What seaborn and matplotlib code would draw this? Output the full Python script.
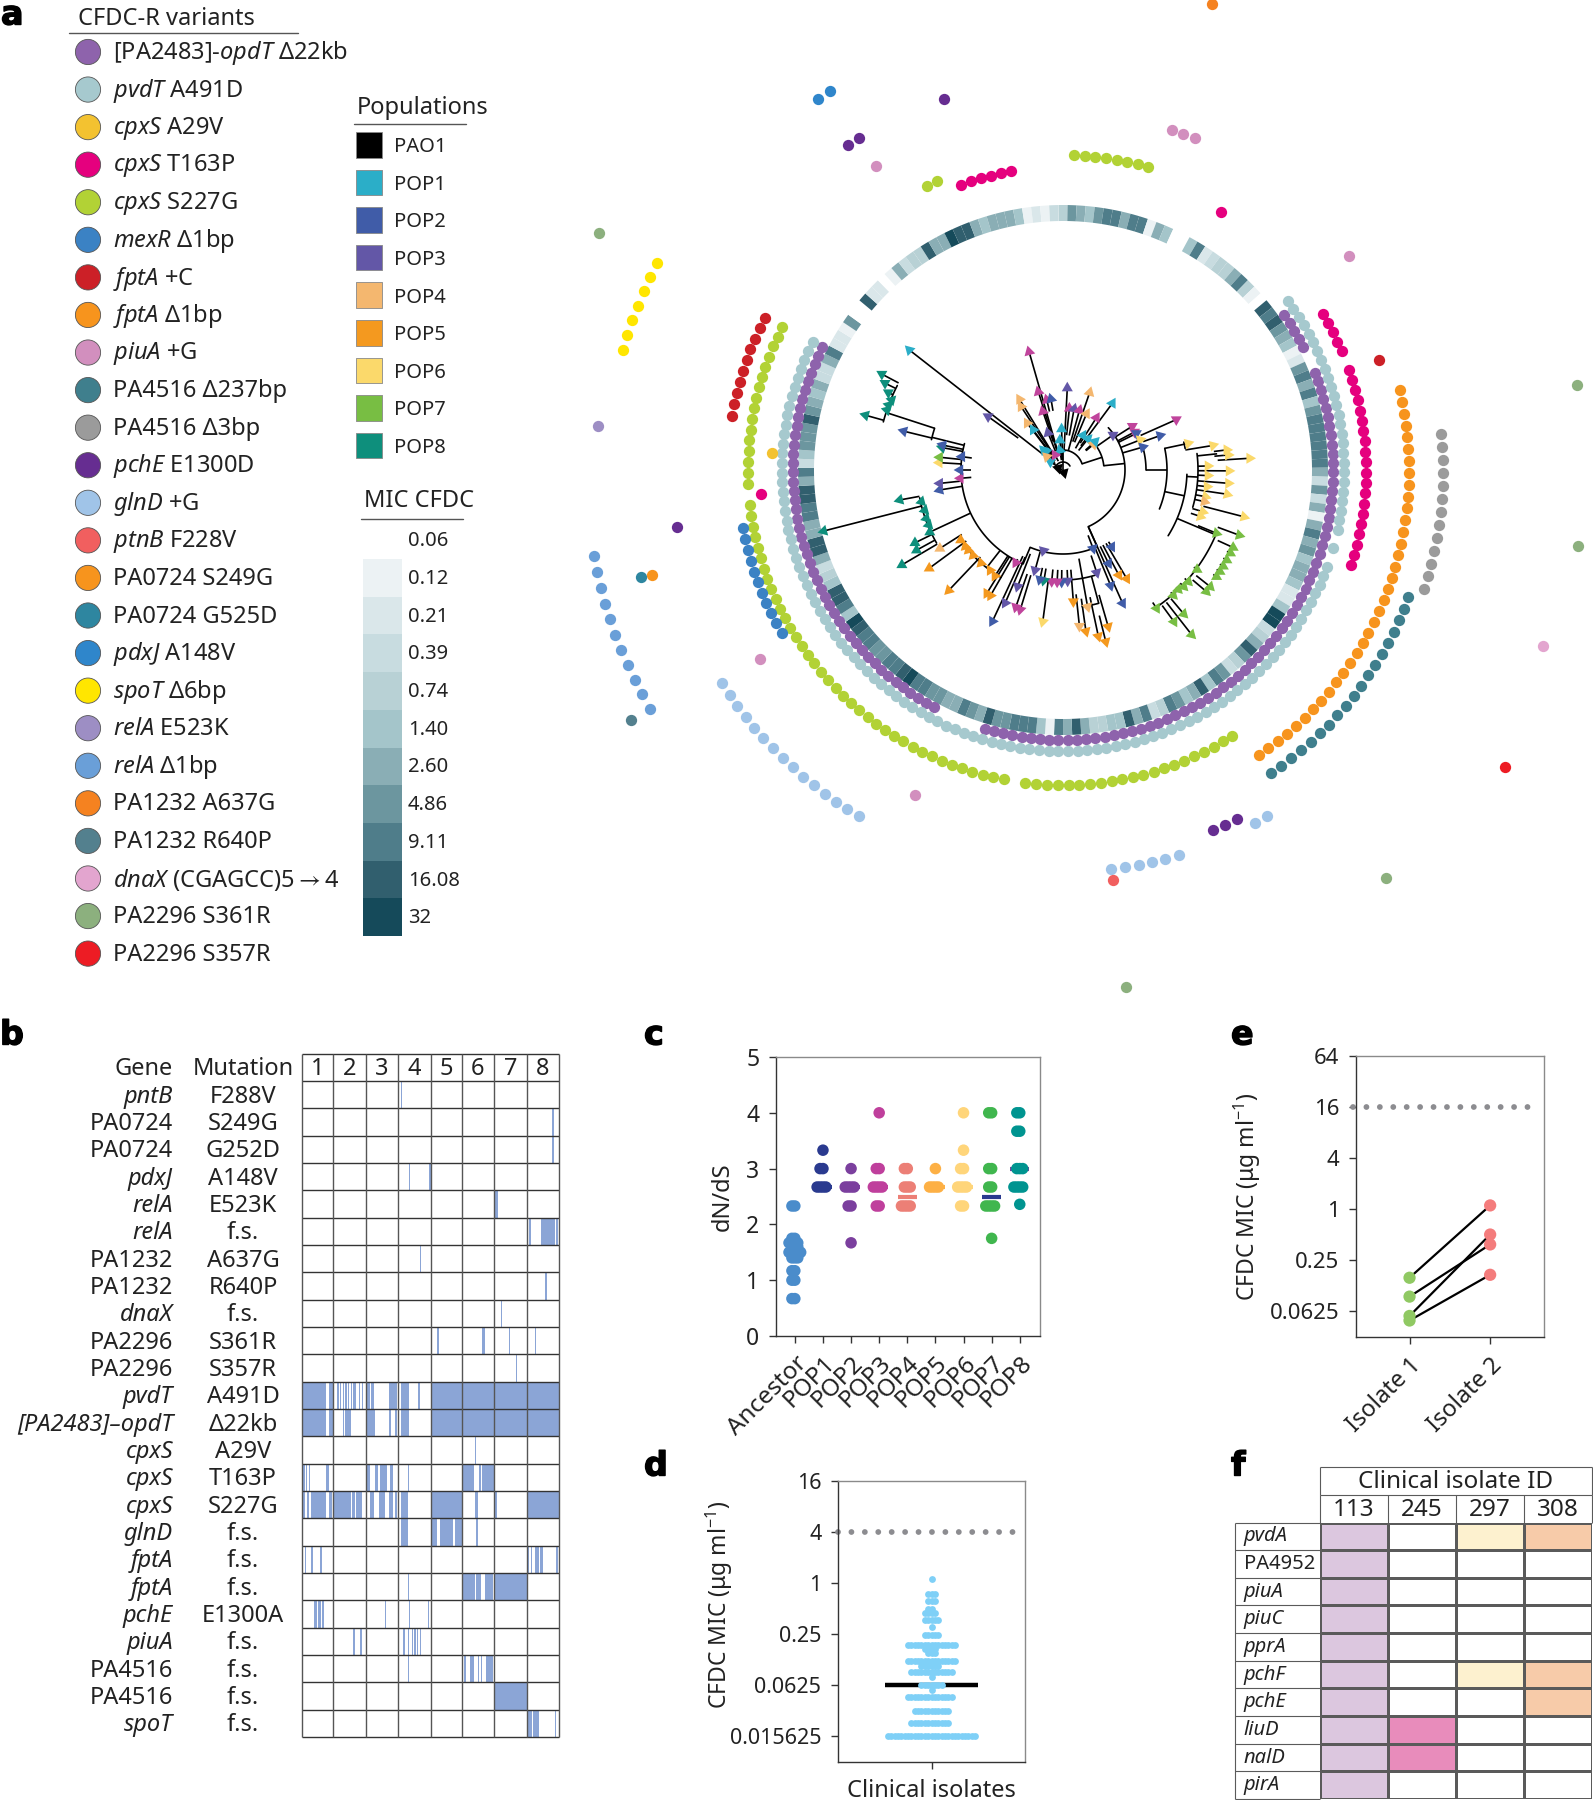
"""Resistance variants: circular phylogeny with rings, mutation table, dN/dS and MIC panels."""
import matplotlib
matplotlib.use("Agg")
import matplotlib.patheffects as pe
import matplotlib.pyplot as plt
import numpy as np
import pandas as pd
import seaborn as sns
from matplotlib.colors import ListedColormap
from matplotlib.lines import Line2D

# ── Data: panel a ─────────────────────────────────────────────────────────────
VARIANT_LABELS = [
    r"[PA2483]-$\mathit{opdT}$ Δ22kb", r"$\mathit{pvdT}$ A491D", r"$\mathit{cpxS}$ A29V",
    r"$\mathit{cpxS}$ T163P", r"$\mathit{cpxS}$ S227G", r"$\mathit{mexR}$ Δ1bp",
    r"$\mathit{fptA}$ +C", r"$\mathit{fptA}$ Δ1bp", r"$\mathit{piuA}$ +G",
    "PA4516 Δ237bp", "PA4516 Δ3bp", r"$\mathit{pchE}$ E1300D", r"$\mathit{glnD}$ +G",
    r"$\mathit{ptnB}$ F228V", "PA0724 S249G", "PA0724 G525D", r"$\mathit{pdxJ}$ A148V",
    r"$\mathit{spoT}$ Δ6bp", r"$\mathit{relA}$ E523K", r"$\mathit{relA}$ Δ1bp",
    "PA1232 A637G", "PA1232 R640P", r"$\mathit{dnaX}$ (CGAGCC)5$\rightarrow$4", "PA2296 S361R", "PA2296 S357R",
]
VARIANT_COLORS = [
    "#8E63AC", "#A6C9CE", "#F3C230", "#E5007E", "#B2D235", "#3B82C4", "#CC2027", "#F7941D",
    "#D28FBE", "#3F7F8D", "#9B9B9B", "#662D91", "#A0C4E8", "#F15F5F", "#F7941D", "#2E86A0",
    "#2F86CB", "#FFE600", "#9D8EC4", "#6A9FD8", "#F58220", "#53808E", "#E3A5CF", "#8CB07E", "#ED1C24",
]
# tree tip index carrying each variant, in legend order
VARIANT_TIPS = [
    [28, 29, 30, 31, 32, 35, 36, 37, 38, 39, 40, 41, 42, 43, 44, 45, 46, 47, 48, 49, 50, 51, 52, 53, 54,
     55, 56, 57, 58, 59, 60, 61, 62, 63, 64, 65, 66, 67, 68, 69, 70, 71, 72, 73, 74, 75, 76, 77, 78, 79,
     80, 81, 82, 83, 84, 85, 86, 87, 88, 89, 90, 91, 92, 93, 94, 95, 96, 97, 98, 99, 100,
     106, 107, 108, 109, 110, 111, 112, 113, 114, 115, 116, 117, 118, 119, 120, 121, 122, 123, 124, 125,
     126, 127, 128, 129, 130, 131, 132, 133, 134, 135, 136, 137, 138, 139, 140, 141, 142, 143, 144, 145,
     146, 147, 148, 149, 150, 151],
    [27, 28, 29, 30, 31, 32, 33, 34, 35, 36, 37, 38, 39, 40, 41, 42, 43, 44, 45, 46, 47, 48, 49, 50, 51,
     52, 54, 56, 57, 58, 59, 60, 61, 62, 63, 64, 65, 66, 67, 68, 69, 70, 71, 72, 73, 74, 75, 76, 77, 78,
     79, 80, 81, 82, 83, 84, 85, 86, 87, 88, 89, 90, 91, 92, 93, 94, 95, 96, 97, 98, 99, 100, 101, 102,
     103, 104, 105, 106, 107, 108, 109, 110, 111, 112, 113, 114, 115, 116, 117, 118, 119, 120, 121, 122,
     123, 124, 125, 126, 127, 128, 129, 130, 131, 132, 133, 134, 135, 136, 137, 138, 139, 140, 141, 142,
     143, 144, 145, 146, 147, 148, 149, 150, 151],
    [139],
    [16, 30, 31, 32, 33, 34, 36, 37, 38, 39, 40, 41, 42, 43, 44, 45, 46, 47, 48, 49, 50, 51, 52, 53, 54,
     55, 135, 173, 174, 175, 176, 177, 178],
    [1, 2, 3, 4, 5, 6, 7, 8, 75, 76, 77, 78, 79, 80, 81, 82, 83, 84, 85, 86, 87, 88, 89, 90, 91, 92, 93,
     94, 95, 97, 98, 99, 100, 101, 102, 103, 104, 105, 106, 107, 108, 109, 110, 111, 112, 113, 114, 115,
     116, 117, 118, 119, 120, 121, 122, 123, 124, 125, 126, 127, 128, 129, 130, 131, 132, 133, 134,
     136, 137, 138, 139, 140, 141, 142, 143, 144, 145, 146, 147, 148, 149, 150, 151, 170, 171],
    [122, 123, 124, 125, 126, 127, 128, 129, 130, 131, 132],
    [36, 142, 143, 144, 145, 146, 147, 148, 149, 150, 151],
    [39, 40, 41, 42, 43, 44, 45, 46, 47, 48, 49, 50, 51, 52, 53, 54, 55, 56, 57, 58, 59, 60, 61, 62, 63,
     64, 65, 66, 67, 68, 69, 70, 71, 72, 73, 74],
    [9, 10, 11, 27, 104, 121, 167],
    [56, 57, 58, 59, 60, 61, 62, 63, 64, 65, 66, 67, 68, 69, 70, 71, 72, 73, 74],
    [43, 44, 45, 46, 47, 48, 49, 50, 51, 52, 53, 54, 55],
    [78, 79, 80, 133, 166, 167, 174],
    [76, 77, 83, 84, 85, 86, 87, 88, 107, 108, 109, 110, 111, 112, 113, 114, 115, 116, 117, 118, 119, 120, 121],
    [88],
    [130],
    [130],
    [166, 167],
    [145, 146, 147, 148, 149, 150, 151],
    [140],
    [122, 123, 124, 125, 126, 127, 128, 129, 130, 131, 132],
    [9],
    [122],
    [56],
    [41, 50, 72, 88, 151],
    [63],
]
MIC_LEVELS_BY_TIP = [
    4, 7, 6, 5, 7, 8, 8, 6, 8, 8, 1, 6, 5, 0, 0, 5, 8, 2, 3, 4,
    4, 6, 8, 4, 1, 0, 9, 8, 9, 7, 6, 5, 1, 2, 7, 8, 6, 8, 5, 7,
    8, 8, 8, 8, 8, 8, 6, 3, 7, 3, 6, 1, 6, 8, 6, 7, 5, 6, 6, 5,
    2, 2, 5, 10, 10, 3, 4, 6, 9, 7, 4, 3, 7, 8, 5, 9, 6, 5, 7, 8,
    4, 3, 8, 6, 9, 5, 5, 4, 4, 6, 9, 6, 8, 1, 5, 8, 8, 8, 7, 7,
    9, 6, 7, 8, 6, 6, 7, 7, 8, 8, 10, 9, 8, 8, 7, 7, 8, 8, 9, 10,
    5, 8, 9, 9, 5, 4, 3, 6, 9, 9, 6, 6, 8, 8, 9, 9, 6, 8, 3, 5,
    7, 7, 7, 9, 7, 6, 5, 6, 3, 3, 6, 8, 2, 2, 1, 7, 0, 0, 9, 2,
    2, 0, 1, 6, 3, 4, 4, 9, 6, 6, 10, 9, 9, 6, 5, 6, 6, 6, 5, 1,
    2, 1, 3,
]
MIC_LABELS = ["0.06", "0.12", "0.21", "0.39", "0.74", "1.40", "2.60", "4.86", "9.11", "16.08", "32"]
MIC_COLORS = ["#FFFFFF", "#ECF2F4", "#DAE7EA", "#C8DCE0", "#B8D1D5", "#A4C5CA", "#8AAEB5",
              "#6C969F", "#4F7D8A", "#315F6E", "#154A5A"]
POP_LABELS = ["PAO1", "POP1", "POP2", "POP3", "POP4", "POP5", "POP6", "POP7", "POP8"]
POP_COLORS = ["#000000", "#2BAEC8", "#405CA8", "#6357A7", "#F4B76F", "#F4991F", "#FBD96B", "#78BE43", "#0E8F7C"]

# tree tips: angle (deg clockwise from north), radius, parent radius, population (9 = unlisted magenta)
TIP_THETA = [
    -52, -54.5, -16, -31.6, -33.5, -37.4, -36.6, -17.5, -13, -9.6, -19, -22, -2, -6, -9, -42, -44, -57, -28, -51,
    3, 5.9, 10.3, 15.4, 22.7, 19, 36.5, 32.6, 30, 38.7, 50, 48.5,
    55, 57.7, 62, 63.5, 66, 70.5, 68.7, 74,
    78, 80.7, 83, 84.8, 86.4, 88.4, 90.3, 92.2, 94.6, 96.6, 98.4, 100.6, 102.6, 106.6, 108.7, 104.5,
    112.4, 110.3, 114.5, 116.4, 118.8, 121, 122.9, 124.8, 128.4, 130.3, 126.6, 131.7, 134, 136, 138.6, 140, 143.8, 142, 145.9,
    147.6, 159, 154, 161.8, 157.6, 155.9, 149.6, 152, 169.8, 175.5, 163.9, 166, 168, 171.9, 174,
    177.6, 180.7, 183, 185.8, 187.6, 189.8, 191.9, 195.6, 193.6, 201.3, 197, 199, 203.5, 205, 207,
    210, 211.7, 223.5, 212.7, 216, 221.4, 226.5, 229.8, 232, 235.6, 233.7, 237.5,
    239.5, 241.3, 243.8, 245, 247.8, 250.5, 253.8, 255.7, 257.4, 259.6,
    260.8, 263.8, 265.4, 270, 273.4, 275.9, 277.5, 280.5, 281.7, 283.7, 285.5, 288.8, 290.4, 292.2, 293.9, 296, 297.9,
    -70, 160,
]
TIP_R = [
    195, 92, 123, 83, 76, 59, 50, 82, 72, 72, 62, 40, 41, 30, 20, 25, 28, 15, 17, 21,
    82, 62, 62, 62, 61, 82, 83, 62, 40, 40, 40, 43,
    61, 82, 81, 82, 124, 103, 83, 83,
    128, 152, 165, 166, 187, 145, 166, 145, 166, 145, 166, 145, 145, 146, 145, 187,
    166, 188, 187, 187, 187, 187, 187, 187, 188, 188, 167, 168, 168, 166, 167, 188, 188, 209, 167,
    91, 84, 104, 108, 125, 146, 126, 119, 139, 132, 163, 177, 170, 163, 157,
    111, 112, 112, 112, 153, 112, 112, 104, 83, 125, 146, 145, 145, 167, 104,
    145, 145, 166, 126, 124, 124, 124, 124, 124, 124, 166, 146,
    187, 167, 165, 147, 145, 145, 144, 247, 145, 166,
    125, 124, 103, 103, 124, 124, 102, 123, 123, 164, 205, 186, 186, 185, 191, 198, 205,
    5, 3,
]
TIP_BASE = [
    20, 55, 15, 15, 15, 15, 15, 20, 60, 60, 30, 20, 10, 10, 10, 12, 12, 8, 10, 10,
    20, 35, 35, 20, 30, 30, 30, 32, 25, 25, 30, 30,
    41, 62, 62, 62, 85, 85, 62, 62,
    124, 124, 152, 152, 155, 135, 135, 135, 135, 135, 135, 135, 135, 135, 135, 145,
    146, 165, 170, 183, 183, 183, 183, 183, 170, 170, 163, 163, 163, 163, 163, 168, 168, 168, 160,
    85, 70, 85, 90, 85, 63, 85, 85, 90, 100, 130, 150, 130, 130, 125,
    100, 100, 100, 100, 112, 100, 100, 85, 84, 90, 110, 110, 95, 95, 100,
    102, 102, 120, 102, 122, 122, 122, 122, 122, 122, 120, 120,
    146, 146, 146, 145, 145, 145, 144, 146, 145, 146,
    102, 102, 92, 92, 102, 102, 92, 102, 102, 135, 186, 184, 184, 184, 186, 186, 186,
    1, 0,
]
TIP_POP = [
    1, 3, 9, 4, 4, 4, 1, 9, 9, 2, 9, 3, 1, 1, 1, 1, 1, 1, 9, 4,
    3, 9, 3, 9, 4, 4, 1, 9, 1, 1, 4, 1,
    3, 9, 9, 2, 9, 2, 6, 2,
    6, 6, 6, 6, 6, 6, 6, 6, 6, 6, 6, 6, 4, 6, 6, 6,
    7, 7, 7, 7, 7, 7, 7, 7, 7, 7, 7, 7, 7, 7, 7, 7, 7, 7, 7,
    2, 2, 2, 3, 2, 2, 5, 5, 4, 5, 5, 5, 5, 5, 4,
    3, 2, 9, 9, 6, 8, 2, 3, 3, 3, 9, 9, 3, 2, 9,
    5, 5, 5, 5, 5, 5, 5, 5, 5, 5, 5, 4,
    8, 8, 8, 8, 8, 8, 8, 8, 8, 8,
    2, 3, 9, 2, 6, 7, 2, 8, 2, 2, 8, 8, 8, 8, 8, 8, 8,
    0, 0,
]
# internal tree branches
ARC_R = [8, 20, 41, 62, 84, 102, 124, 124, 135, 166, 83, 104, 110, 138, 124, 146, 135, 186]
ARC_START = [-60, 3, 57, 47, 156, 203, 92, 210, 83, 112, 74, 78, 162, 165, 77, 240, 283, 285]
ARC_END = [60, 72, 84, 156, 203, 285, 122, 236, 106, 146, 90, 112, 178, 172, 80, 259, 288, 297]
STEM_THETA = [0, 72, 84, 156, 203, 245, 90, 102, 113, 93, 84, 78, 218, 284, 288, 0, 165]
STEM_FROM = [0, 20, 41, 62, 84, 102, 83, 104, 124, 124, 135, 104, 102, 102, 135, 8, 110]
STEM_TO = [8, 41, 62, 84, 102, 146, 104, 124, 166, 135, 155, 124, 124, 135, 186, 20, 138]

# ── Data: panel b ─────────────────────────────────────────────────────────────
TABLE_GENES = [
    "pntB", "PA0724", "PA0724", "pdxJ", "relA", "relA", "PA1232", "PA1232", "dnaX", "PA2296", "PA2296",
    "pvdT", "[PA2483]–opdT", "cpxS", "cpxS", "cpxS", "glnD", "fptA", "fptA", "pchE", "piuA", "PA4516",
    "PA4516", "spoT",
]
TABLE_MUTATIONS = [
    "F288V", "S249G", "G252D", "A148V", "E523K", "f.s.", "A637G", "R640P", "f.s.", "S361R", "S357R",
    "A491D", "Δ22kb", "A29V", "T163P", "S227G", "f.s.", "f.s.", "f.s.", "E1300A", "f.s.", "f.s.", "f.s.", "f.s.",
]
# runs of isolates (start, stop) that carry the mutation, one list per table row
TABLE_RUNS = [
    [(73, 74)],
    [(185, 186)],
    [(185, 186)],
    [(79, 80), (94, 95)],
    [(143, 145)],
    [(168, 169), (177, 187), (188, 189)],
    [(87, 88)],
    [(180, 181)],
    [(147, 148)],
    [(100, 101), (133, 135), (153, 154), (172, 173)],
    [(158, 159)],
    [(0, 18), (20, 23), (26, 27), (28, 29), (30, 31), (32, 33), (34, 35), (36, 37), (38, 40), (42, 43),
     (44, 45), (48, 50), (51, 53), (64, 70), (73, 79), (86, 87), (95, 190)],
    [(0, 18), (20, 23), (30, 31), (32, 36), (48, 54), (64, 66), (69, 70), (73, 79), (95, 190)],
    [(128, 129)],
    [(1, 2), (3, 4), (5, 6), (18, 20), (48, 50), (54, 56), (58, 63), (65, 67), (78, 79), (119, 127), (131, 132), (133, 142)],
    [(1, 2), (4, 5), (7, 18), (20, 22), (23, 36), (37, 39), (40, 44), (50, 53), (57, 61), (64, 67), (69, 70),
     (73, 78), (95, 118), (128, 130), (143, 144), (166, 190)],
    [(73, 78), (95, 100), (102, 112), (113, 118), (129, 130)],
    [(2, 3), (7, 8), (13, 15), (167, 168), (169, 170), (172, 175), (176, 178), (188, 189)],
    [(78, 79), (119, 128), (129, 132), (135, 141), (142, 166)],
    [(9, 11), (12, 14), (15, 16), (61, 62), (79, 80), (93, 94)],
    [(38, 39), (43, 44), (75, 76), (78, 79), (81, 82), (83, 84), (85, 86), (87, 88)],
    [(78, 79), (120, 121), (124, 127), (130, 131), (132, 133), (136, 141)],
    [(142, 166)],
    [(166, 170), (171, 175), (187, 188)],
]
POP_BOUNDS = [0, 23, 47, 71, 95, 118, 142, 166, 190]

# ── Data: panel c ─────────────────────────────────────────────────────────────
DNDS_GROUPS = ["Ancestor", "POP1", "POP2", "POP3", "POP4", "POP5", "POP6", "POP7", "POP8"]
DNDS_COLORS = ["#4A8CCB", "#2A3A8F", "#7B3F9E", "#BF3F9C", "#EC7F76", "#FDB045", "#FFD57A", "#40B64E", "#009490"]
DNDS_VALUES = [
    [2.33, 2.33, 1.75, 1.75, 1.67, 1.67, 1.67, 1.67, 1.6, 1.6, 1.6, 1.5, 1.5, 1.5, 1.5, 1.5, 1.4, 1.4, 1.4,
     1.17, 1.17, 1.0, 1.0, 0.67, 0.67],
    [3.33, 3.0, 3.0, 2.67, 2.67, 2.67, 2.67],
    [3.0, 2.67, 2.67, 2.67, 2.67, 2.33, 2.33, 1.67],
    [4.0, 3.0, 3.0, 2.67, 2.67, 2.67, 2.67, 2.33, 2.33],
    [3.0, 3.0, 2.67, 2.67, 2.67, 2.33, 2.33, 2.33, 2.33],
    [3.0, 2.67, 2.67, 2.67, 2.67],
    [4.0, 3.33, 3.0, 3.0, 2.67, 2.67, 2.67, 2.67, 2.33, 2.33],
    [4.0, 4.0, 3.0, 3.0, 2.67, 2.67, 2.33, 2.33, 2.33, 2.33, 1.75],
    [4.0, 4.0, 3.67, 3.67, 3.0, 3.0, 3.0, 2.67, 2.67, 2.67, 2.67, 2.36],
]
DNDS_MEANS = [1.5, 2.67, 2.67, 2.67, 2.5, 2.67, 2.67, 2.5, 3.0]
DNDS_MEAN_COLORS = ["#C0449C", "#2A3A8F", "#7B3F9E", "#BF3F9C", "#EC7F76", "#FDB045", "#FFD57A", "#2A3A8F", "#7B3F9E"]

# ── Data: panel d ─────────────────────────────────────────────────────────────
CLINICAL_LEVELS = [1.11, 0.745, 0.618, 0.5, 0.44, 0.37, 0.308, 0.246, 0.185, 0.167, 0.152, 0.122, 0.107,
                   0.091, 0.0775, 0.0625, 0.055, 0.046, 0.031, 0.0224, 0.015625]
CLINICAL_COUNTS = [1, 3, 3, 2, 4, 5, 1, 5, 15, 4, 3, 15, 6, 13, 1, 7, 1, 14, 11, 12, 27]
CLINICAL_MEDIAN = 0.0625
CLINICAL_BREAKPOINT = 4
D_TICKS = [16, 4, 1, 0.25, 0.0625, 0.015625]

# ── Data: panel e ─────────────────────────────────────────────────────────────
ISOLATE_1 = [0.156, 0.0935, 0.0553, 0.0489]
ISOLATE_2 = [1.11, 0.385, 0.504, 0.169]
E_BREAKPOINT = 16
E_TICKS = [64, 16, 4, 1, 0.25, 0.0625]

# ── Data: panel f ─────────────────────────────────────────────────────────────
F_ISOLATES = ["113", "245", "297", "308"]
F_GENES = ["pvdA", "PA4952", "piuA", "piuC", "pprA", "pchF", "pchE", "liuD", "nalD", "pirA"]
F_COLORS = ["#FFFFFF", "#DCC7DF", "#E88CBB", "#FDF1CF", "#F7CBA9"]
F_PRESENT = [
    [1, 0, 3, 4], [1, 0, 0, 0], [1, 0, 0, 0], [1, 0, 0, 0], [1, 0, 0, 0],
    [1, 0, 3, 4], [1, 0, 0, 4], [1, 2, 0, 0], [1, 2, 0, 0], [1, 0, 0, 0],
]

# ── Helpers ───────────────────────────────────────────────────────────────────
W, H = 1593, 1800
STEP_DEG = 1.967
RING_RADIUS = [270, 281, 292, 303, 315, 325, 335, 346, 357, 368, 380, 390, 402, 413, 424, 435, 445,
               456, 467, 477, 489, 499, 511, 521, 533]
FONT = 17
LINE = "#555555"
GRID_F = "#5a5a5a"

sns.set_theme(style="ticks")
plt.rcParams["font.family"] = ["Noto Sans", "DejaVu Sans"]
plt.rcParams["mathtext.fontset"] = "custom"
plt.rcParams["mathtext.rm"] = "Noto Sans"
plt.rcParams["mathtext.it"] = "Noto Sans:italic"
plt.rcParams["mathtext.default"] = "regular"

fig = plt.figure(figsize=(W / 100, H / 100), dpi=100, facecolor="white")


def rect(x0, y0, x1, y1):
    return [x0 / W, 1 - y1 / H, (x1 - x0) / W, (y1 - y0) / H]


def fig_text(x, y, s, **kw):
    kw.setdefault("fontsize", FONT)
    kw.setdefault("color", "#222222")
    kw.setdefault("va", "center")
    return fig.text(x / W, 1 - y / H, s, **kw)


def fig_rule(x0, x1, y):
    fig.add_artist(Line2D([x0 / W, x1 / W], [1 - y / H, 1 - y / H], color=LINE, lw=1))


def style_frame(ax, labelsize=16.5):
    for side, spine in ax.spines.items():
        spine.set_visible(True)
        spine.set_linewidth(1)
        spine.set_color("#333333" if side in ("left", "bottom") else "#8a8a8a")
    ax.tick_params(axis="both", which="major", length=5, width=1, color="#333333", labelsize=labelsize,
                   labelcolor="#222222", pad=7)
    ax.tick_params(axis="both", which="minor", length=0)
    ax.patch.set_alpha(0)


def freeze_swarm(ax, size_pt):
    """Keep the tight swarm layout, then draw the points larger so they merge."""
    fig.canvas.draw()
    for coll in ax.collections:
        if coll.get_offsets().shape[0]:
            coll.__dict__.pop("draw", None)
            coll.set_sizes([size_pt ** 2])


def dotted_line(ax, x0, x1, y):
    ax.plot([x0, x1], [y, y], color="#8C8C90", lw=4.2, ls=(0, (0.001, 2.3)), dash_capstyle="round",
            clip_on=False, zorder=1)


def power_label(v):
    return f"{v:g}"


# ── Panel a: circular tree and variant rings ──────────────────────────────────
ax_a = fig.add_axes(rect(1063 - 540, 470 - 540, 1063 + 540, 470 + 540), projection="polar")
ax_a.set_theta_zero_location("N")
ax_a.set_theta_direction(-1)

tip_index = np.arange(len(MIC_LEVELS_BY_TIP))
ax_a.bar(np.radians(tip_index * STEP_DEG), 16, width=np.radians(STEP_DEG), bottom=249,
         color=[MIC_COLORS[v] for v in MIC_LEVELS_BY_TIP], linewidth=0)

for tips, color, radius in zip(VARIANT_TIPS, VARIANT_COLORS, RING_RADIUS):
    sns.scatterplot(x=np.radians(np.array(tips) * STEP_DEG), y=np.full(len(tips), radius), color=color,
                    s=66, linewidth=0, ax=ax_a, legend=False, clip_on=False)

for r, start, end in zip(ARC_R, ARC_START, ARC_END):
    sweep = np.radians(np.linspace(start, end, 60))
    ax_a.plot(sweep, np.full(60, r), color="black", lw=1.2, solid_capstyle="round")
ax_a.vlines(np.radians(STEM_THETA), STEM_FROM, STEM_TO, color="black", lw=1.2)
ax_a.vlines(np.radians(TIP_THETA), TIP_BASE, TIP_R, color="black", lw=1.2)

tips_df = pd.DataFrame({"theta": np.radians(TIP_THETA), "r": TIP_R, "pop": TIP_POP,
                        "heading": [int(round(t / 15.0) * 15) % 360 for t in TIP_THETA]})
tip_palette = dict(enumerate(POP_COLORS))
tip_palette[9] = "#C0449C"
sns.scatterplot(data=tips_df, x="theta", y="r", hue="pop", palette=tip_palette, style="heading",
                markers={h: (3, 0, -h) for h in tips_df["heading"].unique()}, s=85, linewidth=0,
                legend=False, ax=ax_a, zorder=4)
ax_a.set_ylim(0, 540)
ax_a.set_axis_off()

# variant legend
ax_leg = fig.add_axes(rect(60, 33.2, 360, 972.4))
rows = np.arange(len(VARIANT_LABELS))
sns.scatterplot(x=np.zeros(len(rows)), y=rows, hue=rows, palette=VARIANT_COLORS, s=330,
                edgecolor="#555555", linewidth=0.6, legend=False, ax=ax_leg)
for row, label in zip(rows, VARIANT_LABELS):
    ax_leg.text(25, row + 0.03, label, fontsize=FONT, color="#222222", va="center")
ax_leg.set_xlim(-28, 272)
ax_leg.set_ylim(24.5, -0.5)
ax_leg.set_axis_off()
fig_text(78, 19, "CFDC-R variants")
fig_rule(69, 298, 33)

# population legend
ax_pop = fig.add_axes(rect(350, 126.2, 470, 464.3))
pop_rows = np.arange(len(POP_LABELS))
sns.scatterplot(x=np.zeros(len(pop_rows)), y=pop_rows, hue=pop_rows, palette=POP_COLORS, marker="s", s=340,
                edgecolor="#888888", linewidth=0.6, legend=False, ax=ax_pop)
for row, label in zip(pop_rows, POP_LABELS):
    ax_pop.text(25, row + 0.06, label, fontsize=14.5, color="#222222", va="center")
ax_pop.set_xlim(-19, 101)
ax_pop.set_ylim(8.5, -0.5)
ax_pop.set_axis_off()
fig_text(357, 108, "Populations")
fig_rule(354, 466, 124)

# MIC colour key
ax_key = fig.add_axes(rect(363, 559, 402, 936))
sns.heatmap(np.arange(1, 11).reshape(-1, 1), cmap=ListedColormap(MIC_COLORS[1:]), cbar=False,
            xticklabels=False, yticklabels=False, ax=ax_key)
for pos, label in enumerate(MIC_LABELS):
    ax_key.text(1.15, pos - 0.47, label, fontsize=14.5, color="#222222", va="center", clip_on=False)
fig_text(364, 501, "MIC CFDC")
fig_rule(361, 463, 519)

# ── Panel b: mutation table ───────────────────────────────────────────────────
ax_b = fig.add_axes(rect(302, 1081, 559, 1737))
presence = np.zeros((len(TABLE_RUNS), POP_BOUNDS[-1]))
for row, runs in enumerate(TABLE_RUNS):
    for start, stop in runs:
        presence[row, start:stop] = 1
sns.heatmap(presence, cmap=ListedColormap(["#FFFFFF", "#8BA5D6"]), vmin=0, vmax=1, cbar=False,
            xticklabels=False, yticklabels=False, ax=ax_b)
ax_b.hlines(np.arange(-1, len(TABLE_RUNS) + 1), 0, POP_BOUNDS[-1], color="#333333", lw=1, clip_on=False)
ax_b.vlines(POP_BOUNDS, -1, len(TABLE_RUNS), color="#555555", lw=1, clip_on=False)
for i in range(8):
    ax_b.text((POP_BOUNDS[i] + POP_BOUNDS[i + 1]) / 2, -0.43, str(i + 1), ha="center", va="center",
              fontsize=FONT, color="#222222", clip_on=False)
row_trans = ax_b.get_yaxis_transform()
ax_b.text((173 - 302) / 257, -0.43, "Gene", transform=row_trans, ha="right", va="center", fontsize=FONT, color="#222222")
ax_b.text((243 - 302) / 257, -0.43, "Mutation", transform=row_trans, ha="center", va="center", fontsize=FONT, color="#222222")
for row, (gene, mutation) in enumerate(zip(TABLE_GENES, TABLE_MUTATIONS)):
    italic = not gene.startswith("PA") or gene.startswith("[")
    ax_b.text((173 - 302) / 257, row + 0.57, gene, transform=row_trans, ha="right", va="center", fontsize=FONT,
              color="#222222", fontstyle="italic" if italic else "normal")
    ax_b.text((243 - 302) / 257, row + 0.57, mutation, transform=row_trans, ha="center", va="center", fontsize=FONT,
              color="#222222")

# ── Panel c: dN/dS by population ──────────────────────────────────────────────
ax_c = fig.add_axes(rect(776, 1057, 1040, 1336))
dnds_df = pd.DataFrame({
    "group": [g for g, vals in zip(DNDS_GROUPS, DNDS_VALUES) for _ in vals],
    "value": [v for vals in DNDS_VALUES for v in vals],
})
sns.swarmplot(data=dnds_df, x="group", y="value", hue="group", order=DNDS_GROUPS, hue_order=DNDS_GROUPS,
              palette=DNDS_COLORS, size=2.0, linewidth=0, legend=False, ax=ax_c, zorder=2)
ax_c.set_xlim(-0.67, 8.72)
ax_c.set_ylim(0, 5)
freeze_swarm(ax_c, 8.3)
for pos, (mean, color) in enumerate(zip(DNDS_MEANS, DNDS_MEAN_COLORS)):
    ax_c.hlines(mean, pos - 0.33, pos + 0.33, color=color, lw=3, zorder=3 if pos in (4, 7) else 1)
style_frame(ax_c)
ax_c.set_xlabel("")
ax_c.set_ylabel("dN/dS", fontsize=17, color="#222222", labelpad=8)
ax_c.set_yticks([0, 1, 2, 3, 4, 5])
ax_c.set_xticks(range(len(DNDS_GROUPS)))
ax_c.set_xticklabels(DNDS_GROUPS, rotation=45, ha="right", rotation_mode="anchor")
ax_c.tick_params(axis="x", labelsize=17.5, pad=6)

# ── Panel d: clinical isolate MICs ────────────────────────────────────────────
ax_d = fig.add_axes(rect(838, 1481, 1025, 1762))
clinical = np.repeat(CLINICAL_LEVELS, CLINICAL_COUNTS)
sns.swarmplot(y=clinical, color="#7FD0F7", size=2.3, linewidth=0, log_scale=2, ax=ax_d, zorder=2, warn_thresh=1)
ax_d.set_xlim(-0.5, 0.5)
ax_d.set_ylim(2.0 ** -7, 16)
freeze_swarm(ax_d, 4.9)
ax_d.hlines(CLINICAL_MEDIAN, -0.25, 0.25, color="black", lw=3.2, zorder=1.5)
dotted_line(ax_d, -0.5, 0.44, CLINICAL_BREAKPOINT)
style_frame(ax_d, labelsize=15.5)
ax_d.set_yticks(D_TICKS)
ax_d.set_yticklabels([power_label(v) for v in D_TICKS])
ax_d.set_xticks([0])
ax_d.set_xticklabels(["Clinical isolates"])
ax_d.tick_params(axis="x", labelsize=17)
ax_d.set_ylabel(r"CFDC MIC (μg ml$^{-1}$)", fontsize=16.5, color="#222222")
ax_d.yaxis.set_label_coords(-0.55, 0.56)

# ── Panel e: paired isolates ──────────────────────────────────────────────────
ax_e = fig.add_axes(rect(1356, 1056, 1544, 1337))
pairs_df = pd.DataFrame({
    "pair": list(range(len(ISOLATE_1))) * 2,
    "isolate": [0] * len(ISOLATE_1) + [1] * len(ISOLATE_2),
    "mic": ISOLATE_1 + ISOLATE_2,
})
ax_e.set_yscale("log", base=2)
sns.lineplot(data=pairs_df, x="isolate", y="mic", units="pair", estimator=None, color="black", lw=1.6,
             legend=False, ax=ax_e, zorder=2)
sns.scatterplot(data=pairs_df, x="isolate", y="mic", hue="isolate", palette=["#90C963", "#F47C7C"], s=78,
                linewidth=0, legend=False, ax=ax_e, zorder=3)
ax_e.set_xlim(-0.664, 1.668)
ax_e.set_ylim(2.0 ** -5, 64)
dotted_line(ax_e, -0.7, 1.6, E_BREAKPOINT)
style_frame(ax_e, labelsize=16)
ax_e.set_yticks(E_TICKS)
ax_e.set_yticklabels([power_label(v) for v in E_TICKS])
ax_e.set_xticks([0, 1])
ax_e.set_xticklabels(["Isolate 1", "Isolate 2"], rotation=45, ha="right", rotation_mode="anchor")
ax_e.tick_params(axis="x", labelsize=17)
ax_e.set_xlabel("")
ax_e.set_ylabel(r"CFDC MIC (μg ml$^{-1}$)", fontsize=16.5, color="#222222")
ax_e.yaxis.set_label_coords(-0.496, 0.50)

# ── Panel f: clinical isolate gene table ──────────────────────────────────────
ax_f = fig.add_axes(rect(1320, 1522.5, 1592, 1799))
sns.heatmap(np.array(F_PRESENT), cmap=ListedColormap(F_COLORS), vmin=0, vmax=4, cbar=False,
            linewidths=0.8, linecolor=GRID_F, xticklabels=False, yticklabels=False, ax=ax_f)
n_genes = len(F_GENES)
ax_f.hlines([-2, -1], 0, 4, color=GRID_F, lw=0.8, clip_on=False)
ax_f.hlines(np.arange(n_genes + 1), -1.25, 0, color=GRID_F, lw=0.8, clip_on=False)
ax_f.vlines([0, 1, 2, 3, 4], -1, 0, color=GRID_F, lw=0.8, clip_on=False)
ax_f.vlines([0, 4], -2, -1, color=GRID_F, lw=0.8, clip_on=False)
ax_f.vlines(-1.25, 0, n_genes, color=GRID_F, lw=0.8, clip_on=False)
ax_f.text(2, -1.47, "Clinical isolate ID", ha="center", va="center", fontsize=17.5, color="#222222")
for pos, name in enumerate(F_ISOLATES):
    ax_f.text(pos + 0.5, -0.47, name, ha="center", va="center", fontsize=17.5, color="#222222")
for row, gene in enumerate(F_GENES):
    ax_f.text(-1.12, row + 0.5, gene, ha="left", va="center", fontsize=14.5, color="#222222",
              fontstyle="normal" if gene.startswith("PA") else "italic")

# ── Panel letters ─────────────────────────────────────────────────────────────
for letter, x, y in [("a", 1, 15), ("b", 0, 1035), ("c", 644, 1035), ("d", 644, 1466), ("e", 1231, 1035), ("f", 1231, 1466)]:
    t = fig_text(x, y, letter, fontsize=24, fontweight="bold", color="black", family="DejaVu Sans")
    t.set_path_effects([pe.withStroke(linewidth=1.0, foreground="black")])

fig.savefig("out.png", dpi=100, facecolor="white")
